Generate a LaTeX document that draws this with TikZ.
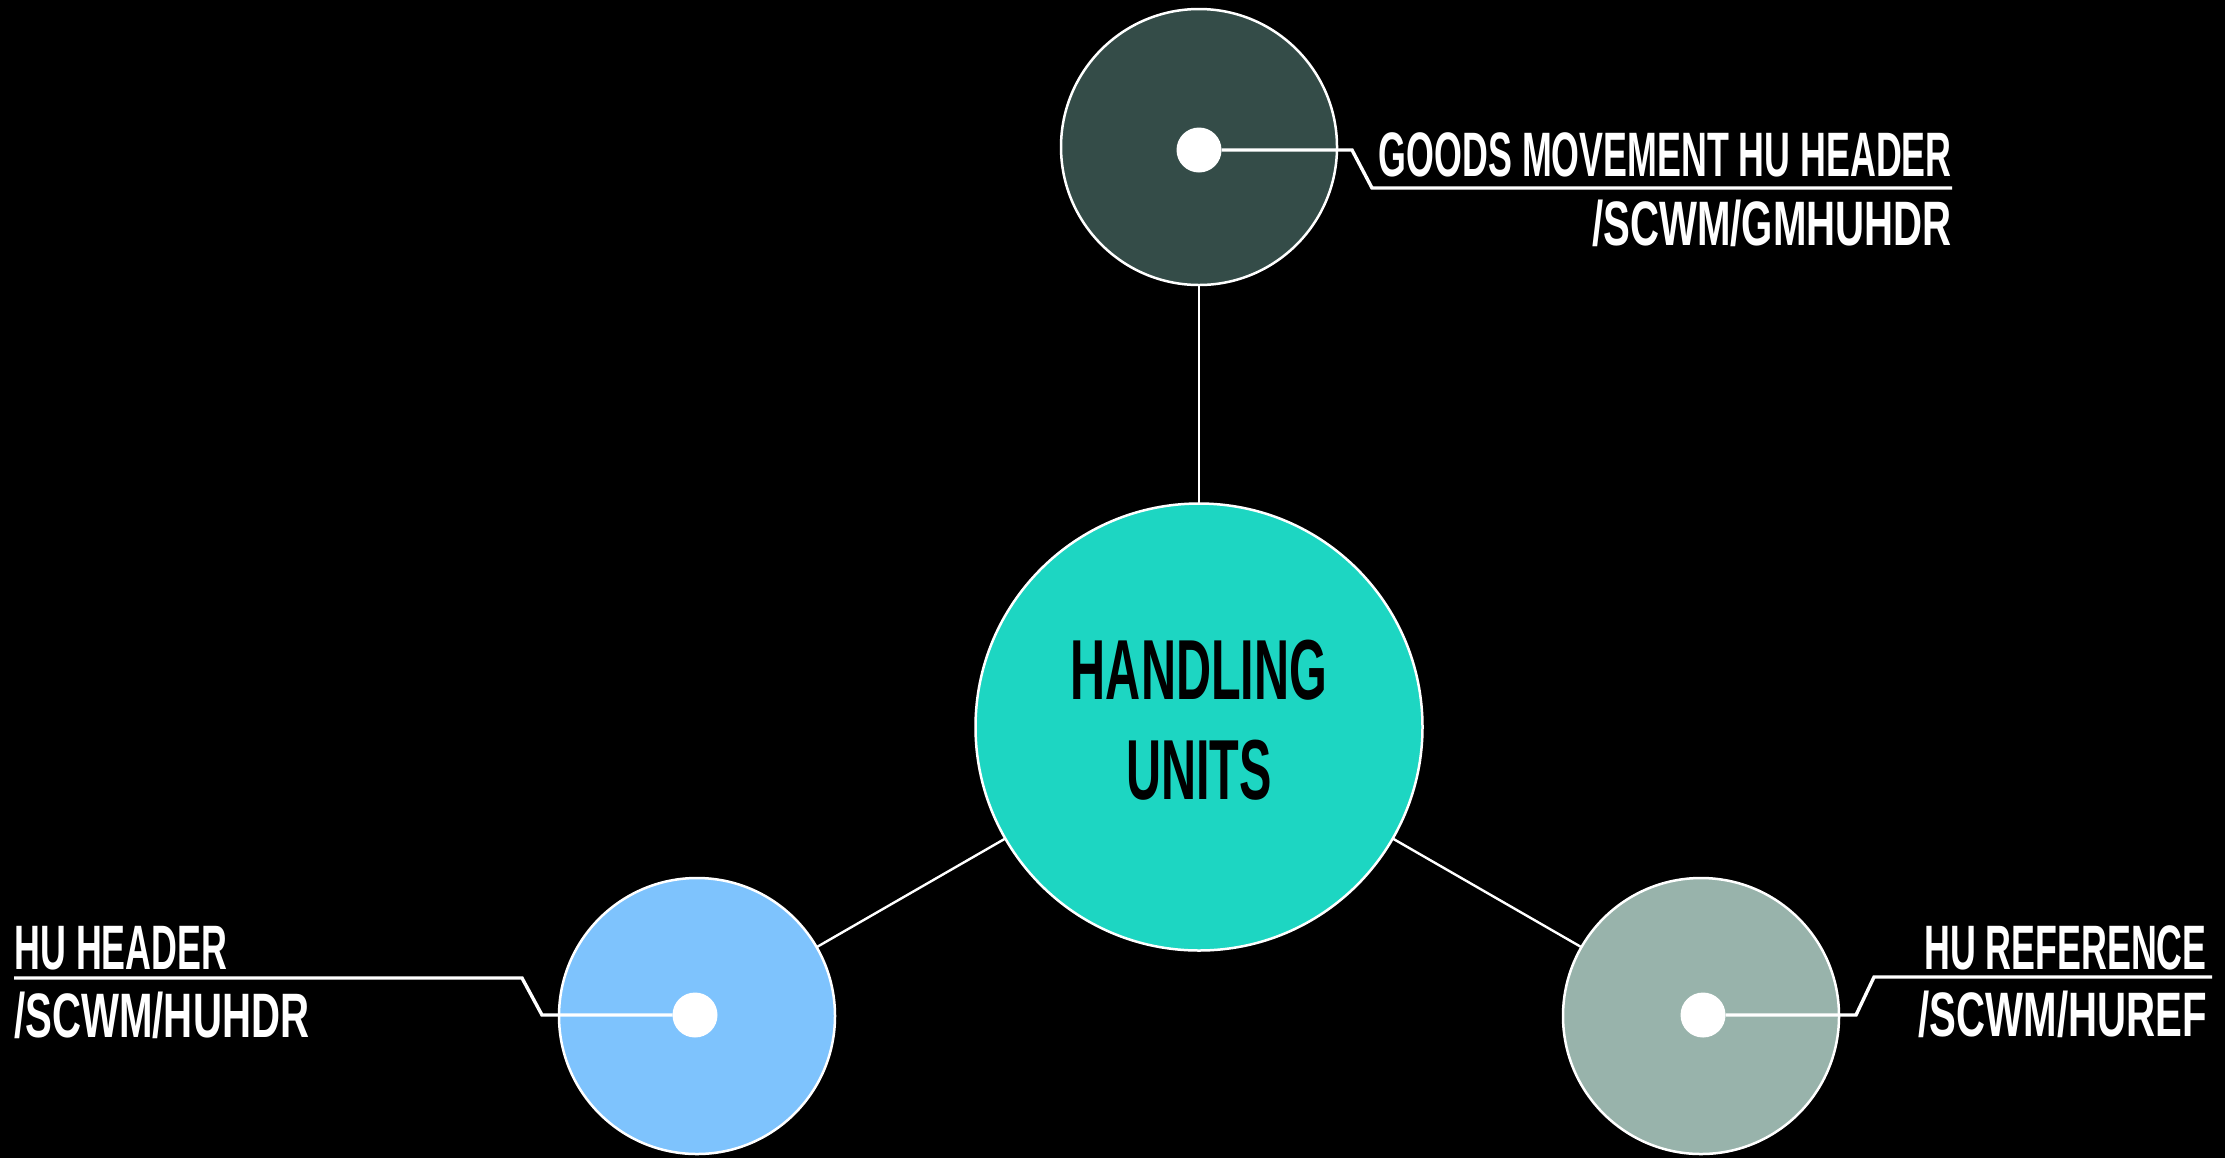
\documentclass[tikz,border=0pt]{standalone}
\usepackage{fontspec}
\newfontfamily\labfont{Liberation Sans}[FakeStretch=0.57]
\newfontfamily\pathfont{Liberation Sans}[FakeStretch=0.64]
\definecolor{hubcol}{HTML}{1DD6C2}
\definecolor{topcol}{HTML}{344C48}
\definecolor{leftcol}{HTML}{7EC3FD}
\definecolor{rightcol}{HTML}{98B3AB}
\begin{document}
\begin{tikzpicture}[x=0.5pt,y=-0.5pt,
  bubble/.style={circle,draw=white,line width=1.25pt,inner sep=0pt,outer sep=0pt,minimum size=138pt},
  hub/.style={circle,draw=white,line width=1.25pt,inner sep=0pt,outer sep=0pt,minimum size=223.5pt,fill=hubcol},
  dotnode/.style={circle,fill=white,inner sep=0pt,outer sep=0pt,minimum size=22.5pt},
  link/.style={draw=white,line width=1.2pt},
  callout/.style={draw=white,line width=1.7pt},
  lab/.style={text=white,inner sep=0pt,font=\labfont\bfseries\fontsize{31.4}{36}\selectfont},
  pathlab/.style={text=white,inner sep=0pt,font=\pathfont\bfseries\fontsize{31.4}{36}\selectfont},
  hubtext/.style={text=black,inner sep=0pt,font=\labfont\bfseries\fontsize{42.6}{48}\selectfont}]
\fill[black] (0,0) rectangle (2225,1158);
\useasboundingbox (0,0) rectangle (2225,1158);
% circles
\node[hub] (hub) at (1199,727) {};
\node[bubble,fill=topcol] (gm) at (1199,147) {};
\node[bubble,fill=leftcol] (hdr) at (697,1016) {};
\node[bubble,fill=rightcol] (ref) at (1701,1016) {};
% connectors
\draw[link] (gm) -- (hub);
\draw[link] (hub) -- (hdr);
\draw[link] (hub) -- (ref);
% dots
\node[dotnode] (gmdot) at (1199,150) {};
\node[dotnode] (hdrdot) at (695,1015) {};
\node[dotnode] (refdot) at (1703,1015) {};
% hub text
\node[hubtext,anchor=base] (hubl1) at (1199,699) {HANDLING};
\node[hubtext,anchor=base] (hubl2) at (1199,799) {UNITS};
% callouts
\coordinate (gmk1) at (1352,150);
\coordinate (gmk2) at (1372,188);
\coordinate (gmend) at (1952,188);
\draw[callout] (gmdot) -- (gmk1) -- (gmk2) -- (gmend);
\coordinate (hdrk1) at (542,1015);
\coordinate (hdrk2) at (522,978);
\coordinate (hdrend) at (14,978);
\draw[callout] (hdrdot) -- (hdrk1) -- (hdrk2) -- (hdrend);
\coordinate (refk1) at (1856,1015);
\coordinate (refk2) at (1874,977);
\coordinate (refend) at (2212,977);
\draw[callout] (refdot) -- (refk1) -- (refk2) -- (refend);
% labels
\node[lab,anchor=base east] (gmt1) at (1952,176) {GOODS MOVEMENT HU HEADER};
\node[pathlab,anchor=base east] (gmt2) at (1952,245) {/SCWM/GMHUHDR};
\node[lab,anchor=base west] (hdrt1) at (14,969) {HU HEADER};
\node[pathlab,anchor=base west] (hdrt2) at (14,1037) {/SCWM/HUHDR};
\node[lab,anchor=base east] (reft1) at (2207,969) {HU REFERENCE};
\node[pathlab,anchor=base east] (reft2) at (2207,1036) {/SCWM/HUREF};
\end{tikzpicture}
\end{document}
